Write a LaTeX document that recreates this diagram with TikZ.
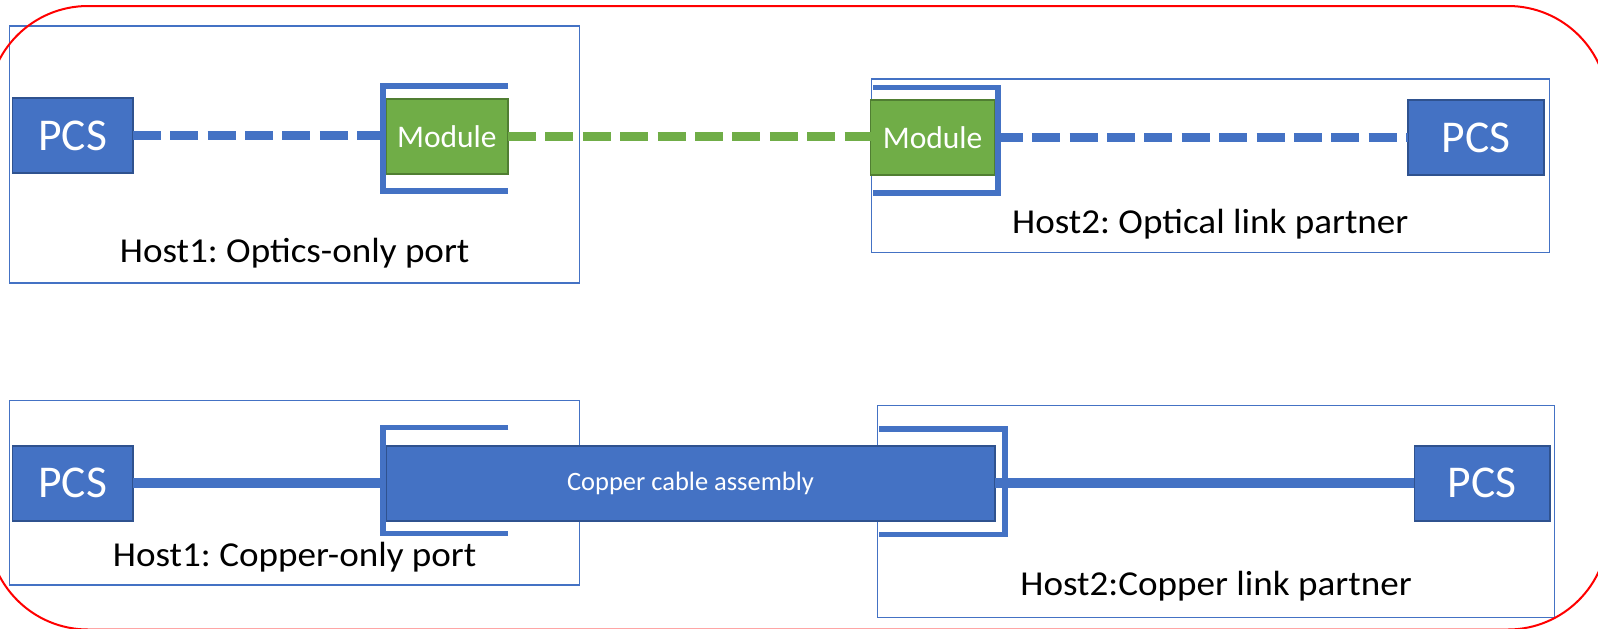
\documentclass[tikz,border=0pt]{standalone}
\usepackage{fontspec}
\setmainfont{Carlito}
\newfontfamily\hostfont{Carlito}[FakeStretch=1.06]
\frenchspacing
\definecolor{accblue}{HTML}{4472C4}
\definecolor{darkblue}{HTML}{2F528F}
\definecolor{accgreen}{HTML}{70AD47}
\definecolor{darkgreen}{HTML}{507E32}
\definecolor{frame}{HTML}{FF0000}
\begin{document}
\begin{tikzpicture}[x=1pt,y=-1pt,
  hostbox/.style={draw=accblue, line width=1.2pt, inner sep=0pt, outer sep=0pt},
  pcsbox/.style={draw=darkblue, fill=accblue, line width=1.6pt, text=white,
    font=\fontsize{45.5}{54}\selectfont, inner sep=0pt, outer sep=0pt, minimum height=75pt},
  modbox/.style={draw=darkgreen, fill=accgreen, line width=1.6pt, text=white,
    font=\fontsize{31.5}{38}\selectfont, inner sep=0pt, outer sep=0pt, minimum height=75pt},
  cablebox/.style={draw=darkblue, fill=accblue, line width=1.6pt, text=white,
    font=\fontsize{26.5}{32}\selectfont, inner sep=0pt, outer sep=0pt, minimum height=75pt},
  hostlabel/.style={font=\hostfont\fontsize{35}{42}\selectfont, anchor=base, inner sep=0pt, text=black},
  cage/.style={draw=accblue, line width=5.5pt, line join=miter},
  bluedash/.style={draw=accblue, line width=9.5pt, dash pattern=on 28pt off 9.4pt},
  greendash/.style={draw=accgreen, line width=9.5pt, dash pattern=on 28pt off 9.4pt},
  copperlink/.style={draw=accblue, line width=10pt}
]
\useasboundingbox (0,0) rectangle (1598,629);

% host enclosures
\node[hostbox, minimum width=570.2pt, minimum height=257pt] (host1o) at (294.7,154.5) {};
\node[hostbox, minimum width=677.8pt, minimum height=173.7pt] (host2o) at (1210.3,165.85) {};
\node[hostbox, minimum width=570.2pt, minimum height=184.3pt] (host1c) at (294.7,492.85) {};
\node[hostbox, minimum width=676.8pt, minimum height=211.6pt] (host2c) at (1216.1,511.5) {};

% labels
\node[hostlabel] (lab1) at (294.7,262.5) {Host1: Optics-only port};
\node[hostlabel] (lab2) at (1210.3,233.3) {Host2: Optical link partner};
\node[hostlabel] (lab3) at (294.7,566) {Host1: Copper-only port};
\node[hostlabel] (lab4) at (1216.1,595) {Host2:Copper link partner};

% optical row
\node[pcsbox, minimum width=120.2pt] (pcs1) at (72.7,135.5) {PCS};
\node[pcsbox, minimum width=136.3pt] (pcs2) at (1475.9,137.5) {PCS};
\node[modbox, minimum width=122.2pt] (mod1) at (446.9,136.5) {Module};
\node[modbox, minimum width=124.2pt] (mod2) at (932.6,137.5) {Module};

\draw[bluedash] (pcs1.east) -- (pcs1.east -| mod1.west);
\draw[greendash] (mod1.east) -- (mod1.east -| mod2.west);
\draw[bluedash] (mod2.east) -- (mod2.east -| pcs2.west);

\draw[cage] (508.3,85.8) -| (383.2,191.2) -- (508.3,191.2);
\draw[cage] (873,87.5) -| (998.2,193.2) -- (873,193.2);

% copper row
\node[pcsbox, minimum width=120.2pt] (pcs3) at (72.7,483.2) {PCS};
\node[pcsbox, minimum width=135.7pt] (pcs4) at (1482.2,483.2) {PCS};
\node[cablebox, minimum width=609.4pt] (cable) at (690.5,483.2) {Copper cable assembly};

\draw[copperlink] (pcs3.east) -- (pcs3.east -| cable.west);
\draw[copperlink] (cable.east) -- (cable.east -| pcs4.west);

\draw[cage] (508.3,427.5) -| (383.2,533.3) -- (508.3,533.3);
\draw[cage] (879.3,428.8) -| (1005,534.5) -- (879.3,534.5);

% red outline
\draw[frame, line width=2pt, rounded corners=100pt] (-12,6) rectangle (1608,629.5);
\end{tikzpicture}
\end{document}
